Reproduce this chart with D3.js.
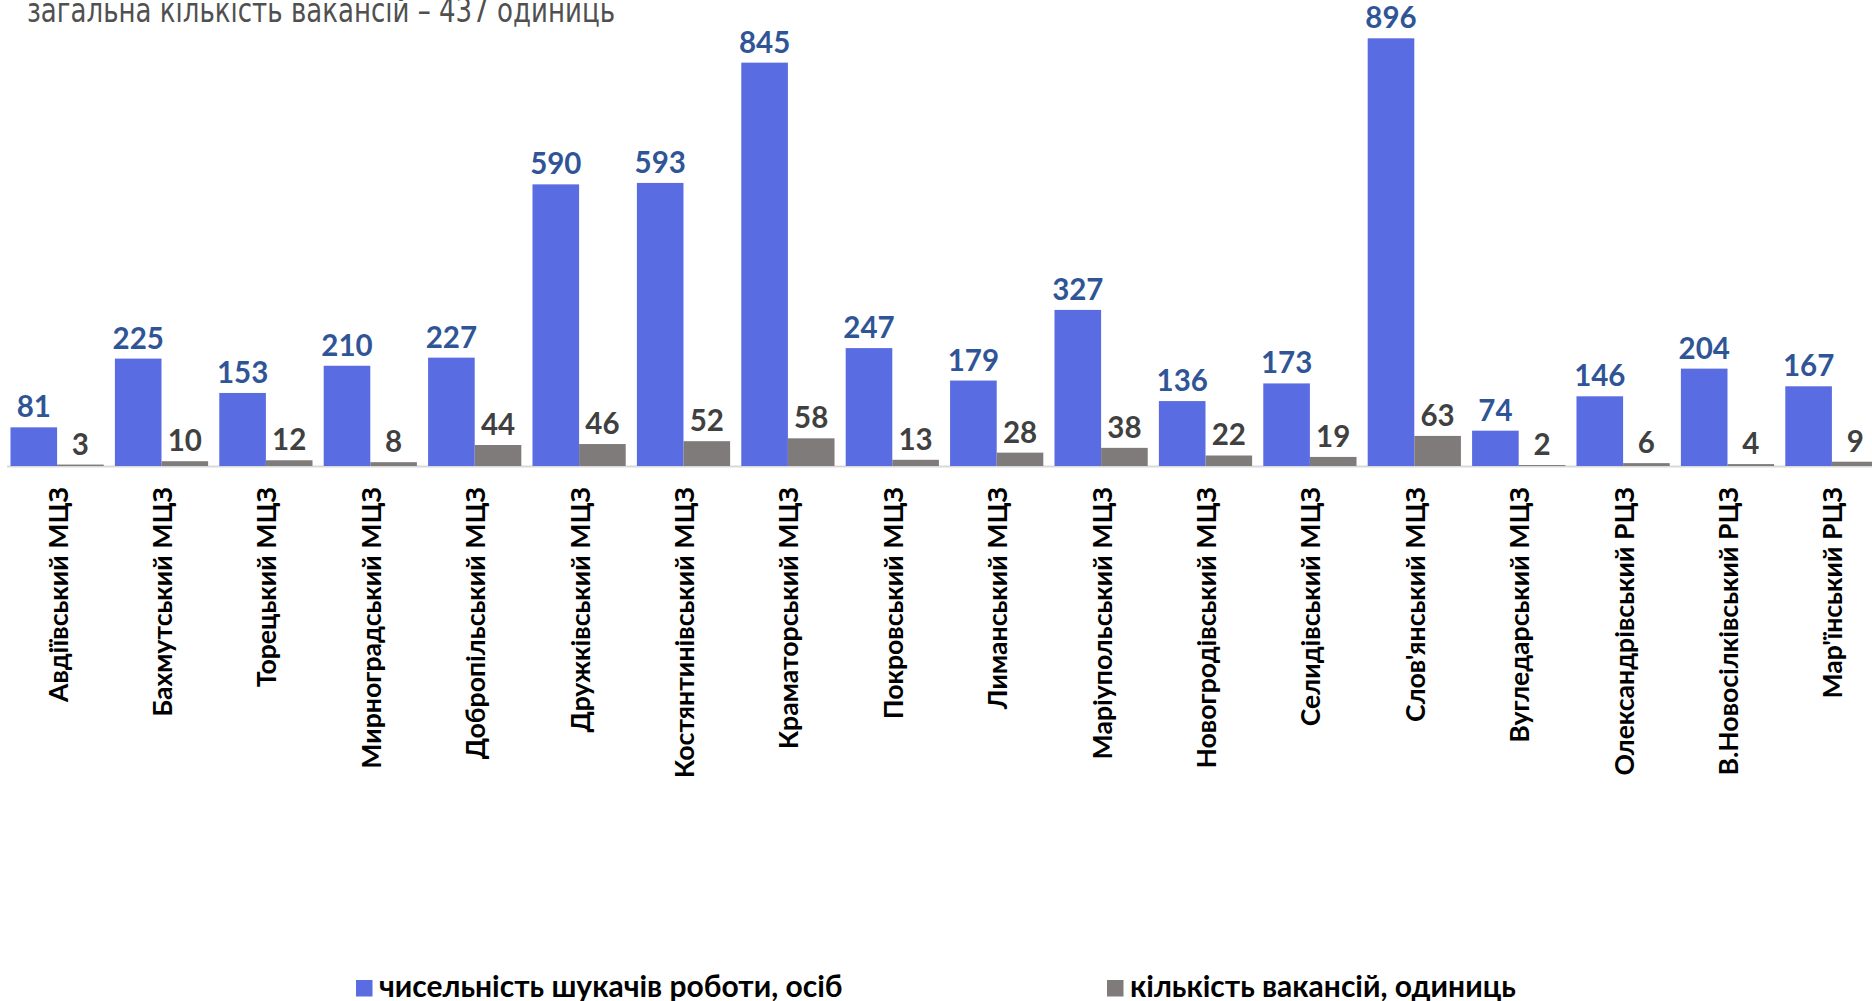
<!DOCTYPE html>
<html lang="uk">
<head>
    <meta charset="UTF-8">
    <title>Шукачі роботи та вакансії</title>
    <script src="https://d3js.org/d3.v7.min.js"></script>
    <style>
        body {
            margin: 0;
            overflow: hidden;
            background: white;
        }
        .title {
            font-family: "Liberation Sans Narrow", "Arial Narrow", "DejaVu Sans Condensed", sans-serif;
            font-size: 34px;
            fill: #505050;
        }
        .value {
            font-family: Lato, "Open Sans", sans-serif;
            font-weight: bold;
            font-size: 29.5px;
            text-anchor: middle;
        }
        .cat {
            font-family: Lato, "Open Sans", sans-serif;
            font-weight: bold;
            font-size: 26.6px;
            text-anchor: end;
            fill: black;
        }
        .legend {
            font-family: Lato, "Open Sans", sans-serif;
            font-weight: bold;
            font-size: 30px;
            fill: black;
        }
    </style>
</head>
<body>
<div class="chart"></div>
<script>
    // categories and values
    const centres = ["Авдіївський МЦЗ", "Бахмутський МЦЗ", "Торецький МЦЗ", "Мирноградський МЦЗ",
        "Добропільський МЦЗ", "Дружківський МЦЗ", "Костянтинівський МЦЗ", "Краматорський МЦЗ",
        "Покровський МЦЗ", "Лиманський МЦЗ", "Маріупольський МЦЗ", "Новогродівський МЦЗ",
        "Селидівський МЦЗ", "Слов'янський МЦЗ", "Вугледарський МЦЗ", "Олександрівський РЦЗ",
        "В.Новосілківський РЦЗ", "Мар'їнський РЦЗ"];
    const seekers = [81, 225, 153, 210, 227, 590, 593, 845, 247, 179, 327, 136, 173, 896, 74, 146, 204, 167];
    const vacancies = [3, 10, 12, 8, 44, 46, 52, 58, 13, 28, 38, 22, 19, 63, 2, 6, 4, 9];
    const seriesNames = ["чисельність шукачів роботи, осіб", "кількість вакансій, одиниць"];
    const titleText = "загальна кількість вакансій – 437 одиниць";

    const width = 1872, height = 1001;
    const baseY = 466;
    const colors = ["#5a6ce2", "#7f7b7b"];
    const labelColors = ["#2f5597", "#404040"];

    const svg = d3.select(".chart").append("svg")
        .attr("width", width)
        .attr("height", height);

    const step = 104.4;
    const x = d3.scaleBand()
        .domain(centres)
        .range([4.9, 4.9 + step * centres.length])
        .paddingInner(0.107)
        .paddingOuter(0.0535);

    const xs = d3.scaleBand()
        .domain([0, 1])
        .range([0, x.bandwidth()]);

    const y = d3.scaleLinear()
        .domain([0, 896])
        .range([baseY, 38.3]);

    // title (clipped at the top like in the original)
    svg.append("text")
        .attr("class", "title")
        .attr("x", 27)
        .attr("y", 22)
        .attr("textLength", 588)
        .attr("lengthAdjust", "spacingAndGlyphs")
        .text(titleText);

    // axis line
    svg.append("line")
        .attr("x1", 7)
        .attr("x2", width)
        .attr("y1", baseY + 0.5)
        .attr("y2", baseY + 0.5)
        .style("stroke", "#d9d9d9")
        .style("stroke-width", 2);

    const rows = centres.map((c, i) => ({ name: c, vals: [seekers[i], vacancies[i]] }));

    const groups = svg.selectAll("g.grp")
        .data(rows)
        .enter().append("g")
        .attr("class", "grp")
        .attr("transform", d => "translate(" + x(d.name) + ",0)");

    groups.selectAll("rect")
        .data(d => d.vals)
        .enter().append("rect")
        .attr("x", (d, i) => xs(i))
        .attr("y", d => y(d))
        .attr("width", xs.bandwidth())
        .attr("height", d => baseY - y(d))
        .style("fill", (d, i) => colors[i]);

    groups.selectAll("text.value")
        .data(d => d.vals)
        .enter().append("text")
        .attr("class", "value")
        .attr("x", (d, i) => xs(i) + xs.bandwidth() / 2)
        .attr("y", d => y(d) - 10)
        .style("fill", (d, i) => labelColors[i])
        .text(d => d);

    // rotated category labels
    svg.selectAll("text.cat")
        .data(centres)
        .enter().append("text")
        .attr("class", "cat")
        .attr("transform", d => "translate(" + (x(d) + x.bandwidth() / 2 + 10.5) + "," + 487 + ") rotate(-90)")
        .text(d => d);

    // legend
    const legendX = [356, 1107];
    const legend = svg.selectAll("g.leg")
        .data(seriesNames)
        .enter().append("g")
        .attr("class", "leg")
        .attr("transform", (d, i) => "translate(" + legendX[i] + ",980)");

    legend.append("rect")
        .attr("width", 16.5)
        .attr("height", 16.5)
        .style("fill", (d, i) => colors[i]);

    legend.append("text")
        .attr("class", "legend")
        .attr("x", 23)
        .attr("y", 16.5)
        .text(d => d);
</script>
</body>
</html>
